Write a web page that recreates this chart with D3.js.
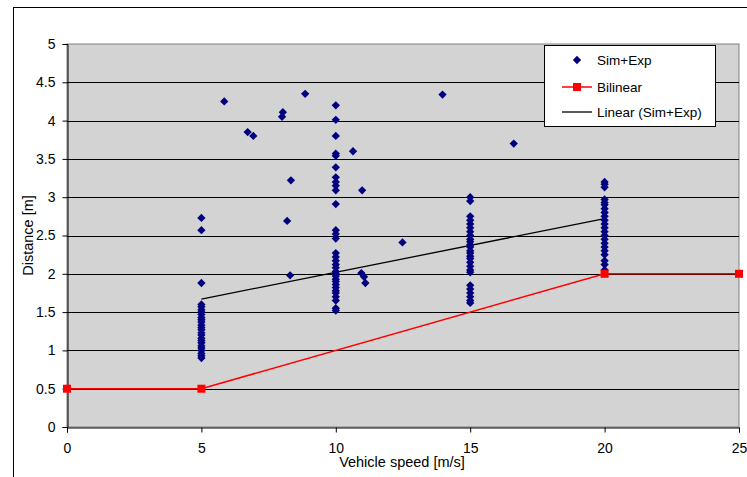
<!DOCTYPE html>
<html>
<head>
<meta charset="utf-8">
<script src="https://cdn.jsdelivr.net/npm/d3@7"></script>
<style>
  html, body { margin: 0; padding: 0; background: #fff; }
  svg { display: block; font-family: "Liberation Sans", Arial, sans-serif; }
</style>
</head>
<body>
<svg id="chart" width="747" height="477"></svg>
<script>
// Measured distances (Sim+Exp) per vehicle speed
const simX = [
  5,5,5,5,5,5,5,5,5,5,5,5,5,5,5,5,5,5,5,5,5,5,5,5,5,
  5.85, 6.72, 6.93, 8.03, 8.0, 8.86, 8.33, 8.19, 8.3,
  10,10,10,10,10,10,10,10,10,10,10,10,10,10,
  10,10,10,10,10,10,10,10,10,10,10,10,10,10,10,10,10,10,
  10.64, 10.98, 10.95, 11.05, 11.1, 12.48, 13.97, 16.62,
  15,15,15,15,15,15,15,15,15,15,15,15,15,15,15,15,15,15,15,15,15,15,15,15,15,15,
  20,20,20,20,20,20,20,20,20,20,20,20,20,20,20,20,20,20,20,20,20,20
];
const simY = [
  0.90,0.93,0.96,1.00,1.03,1.06,1.10,1.13,1.16,1.20,1.23,1.27,1.30,1.33,1.37,1.40,1.43,1.47,1.50,1.53,1.57,1.60,1.88,2.57,2.73,
  4.25, 3.85, 3.80, 4.11, 4.05, 4.35, 3.22, 2.69, 1.98,
  4.20,4.01,3.80,3.57,3.54,3.39,3.26,3.20,3.15,3.09,2.91,2.57,2.52,2.46,
  2.27,2.22,2.17,2.12,2.08,2.03,2.00,1.97,1.93,1.90,1.86,1.82,1.78,1.75,1.70,1.65,1.55,1.52,
  3.60, 3.09, 2.01, 1.96, 1.88, 2.41, 4.34, 3.70,
  3.00,2.95,2.75,2.70,2.65,2.60,2.55,2.50,2.45,2.42,2.38,2.35,2.30,2.27,2.23,2.20,2.15,2.10,2.05,2.02,1.85,1.80,1.75,1.70,1.65,1.62,
  3.20,3.17,3.13,2.97,2.93,2.90,2.85,2.80,2.75,2.70,2.65,2.60,2.55,2.50,2.45,2.40,2.35,2.30,2.25,2.17,2.12,2.05
];

// Bilinear model
const bilinearX = [0, 5, 20, 25];
const bilinearY = [0.5, 0.5, 2, 2];

// Linear trend of Sim+Exp
const trendX = [5, 20];
const trendY = [1.67, 2.72];

// Axis ticks
const xTicks = [0, 5, 10, 15, 20, 25];
const yTicks = [0, 0.5, 1, 1.5, 2, 2.5, 3, 3.5, 4, 4.5, 5];

const legendLabels = ["Sim+Exp", "Bilinear", "Linear (Sim+Exp)"];

const svg = d3.select("#chart");
const plotL = 67, plotR = 739, plotT = 44, plotB = 427;

const x = d3.scaleLinear().domain([0, 25]).range([plotL, plotR]);
const y = d3.scaleLinear().domain([0, 5]).range([plotB, plotT]);

// Outer chart frame
svg.append("rect")
  .attr("x", 13.5).attr("y", 7.5)
  .attr("width", 760).attr("height", 500)
  .attr("fill", "#fff").attr("stroke", "#000").attr("stroke-width", 1);

// Plot area
svg.append("rect")
  .attr("x", plotL).attr("y", plotT)
  .attr("width", plotR - plotL).attr("height", plotB - plotT)
  .attr("fill", "#d3d3d3").attr("stroke", "#808080").attr("stroke-width", 1);

// Horizontal gridlines
svg.append("g")
  .selectAll("line")
  .data(yTicks.filter(v => v > 0 && v < 5))
  .join("line")
  .attr("x1", plotL).attr("x2", plotR)
  .attr("y1", d => Math.round(y(d)) + 0.5).attr("y2", d => Math.round(y(d)) + 0.5)
  .attr("stroke", "#000").attr("stroke-width", 1);

// Axes
const yAxis = d3.axisLeft(y).tickValues(yTicks).tickSize(5).tickPadding(7).tickFormat(d3.format("~g"));
const xAxis = d3.axisBottom(x).tickValues(xTicks).tickSize(5).tickPadding(11).tickFormat(d3.format("d"));

const gy = svg.append("g").attr("transform", `translate(${plotL + 0.5},0)`).call(yAxis);
const gx = svg.append("g").attr("transform", `translate(0,${plotB + 0.5})`).call(xAxis);
[gx, gy].forEach(g => {
  g.select(".domain").attr("stroke", "#000");
  g.selectAll(".tick line").attr("stroke", "#000");
  g.selectAll(".tick text").attr("fill", "#000").style("font-size", "14px")
    .style("font-family", "'Liberation Sans', Arial, sans-serif");
});

// Trend line
svg.append("path")
  .datum(trendX.map((v, i) => [v, trendY[i]]))
  .attr("d", d3.line().x(d => x(d[0])).y(d => y(d[1])))
  .attr("fill", "none").attr("stroke", "#000").attr("stroke-width", 1.3);

// Scatter points
const diamond = d3.symbol().type(d3.symbolDiamond2).size(44);
svg.append("g")
  .selectAll("path")
  .data(simX.map((v, i) => [v, simY[i]]))
  .join("path")
  .attr("transform", d => `translate(${x(d[0])},${y(d[1])})`)
  .attr("d", diamond)
  .attr("fill", "#000080");

// Bilinear line with square markers
svg.append("path")
  .datum(bilinearX.map((v, i) => [v, bilinearY[i]]))
  .attr("d", d3.line().x(d => x(d[0])).y(d => y(d[1])))
  .attr("fill", "none").attr("stroke", "#ff0000").attr("stroke-width", 1.5);
svg.append("g")
  .selectAll("rect")
  .data(bilinearX.map((v, i) => [v, bilinearY[i]]))
  .join("rect")
  .attr("x", d => x(d[0]) - 4).attr("y", d => y(d[1]) - 4)
  .attr("width", 8).attr("height", 8)
  .attr("fill", "#ff0000");

// Axis titles
svg.append("text")
  .attr("x", 402).attr("y", 467)
  .attr("text-anchor", "middle").style("font-size", "14.5px")
  .text("Vehicle speed [m/s]");
svg.append("text")
  .attr("transform", `translate(33,${(plotT + plotB) / 2}) rotate(-90)`)
  .attr("text-anchor", "middle").style("font-size", "14.5px")
  .text("Distance [m]");

// Legend
const lg = svg.append("g");
lg.append("rect")
  .attr("x", 544.5).attr("y", 45.5).attr("width", 171).attr("height", 81)
  .attr("fill", "#fff").attr("stroke", "#000").attr("stroke-width", 1);
const rows = [60, 87, 112];
lg.append("path").attr("transform", `translate(577,${rows[0]})`).attr("d", diamond).attr("fill", "#000080");
lg.append("line").attr("x1", 562).attr("x2", 592).attr("y1", rows[1]).attr("y2", rows[1])
  .attr("stroke", "#ff0000").attr("stroke-width", 1.5);
lg.append("rect").attr("x", 573).attr("y", rows[1] - 4).attr("width", 8).attr("height", 8).attr("fill", "#ff0000");
lg.append("line").attr("x1", 562).attr("x2", 592).attr("y1", rows[2]).attr("y2", rows[2])
  .attr("stroke", "#000").attr("stroke-width", 1.3);
lg.selectAll("text.lbl")
  .data(legendLabels)
  .join("text")
  .attr("class", "lbl")
  .attr("x", 597).attr("y", (d, i) => rows[i] + 5)
  .style("font-size", "13.5px")
  .text(d => d);
</script>
</body>
</html>
